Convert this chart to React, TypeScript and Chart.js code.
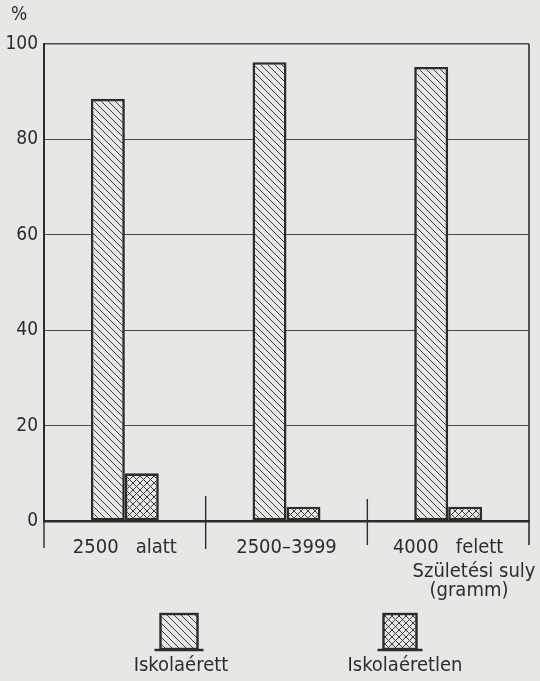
import React, { useEffect, useRef } from "react";
import { Chart, registerables } from "chart.js";

Chart.register(...registerables);

const categories = ["2500   alatt", "2500–3999", "4000   felett"];
const seriesNames = ["Iskolaérett", "Iskolaéretlen"];
const iskolaerett = [88.5, 96.2, 95.2];
const iskolaeretlen = [10, 3, 3];
const yTicks = [0, 20, 40, 60, 80, 100];
const axisUnit = "%";
const xTitle = ["Születési suly", "(gramm)"];

const PAPER = "#e7e7e4";
const INK = "#2c2c2c";
const FONT = "'DejaVu Sans Condensed', 'DejaVu Sans', sans-serif";

function makeHatch(cross: boolean): CanvasPattern | string {
  const s = 7;
  const c = document.createElement("canvas");
  c.width = s;
  c.height = s;
  const g = c.getContext("2d");
  if (!g) return PAPER;
  g.fillStyle = PAPER;
  g.fillRect(0, 0, s, s);
  g.strokeStyle = "#3a3a3a";
  g.lineWidth = 1;
  g.beginPath();
  g.moveTo(-1, -1);
  g.lineTo(s + 1, s + 1);
  g.moveTo(-1, s - 1);
  g.lineTo(1, s + 1);
  g.moveTo(s - 1, -1);
  g.lineTo(s + 1, 1);
  if (cross) {
    g.moveTo(s + 1, -1);
    g.lineTo(-1, s + 1);
    g.moveTo(1, -1);
    g.lineTo(-1, 1);
    g.moveTo(s + 1, s - 1);
    g.lineTo(s - 1, s + 1);
  }
  g.stroke();
  const p = g.createPattern(c, "repeat");
  return p || PAPER;
}

export default function App() {
  const ref = useRef<HTMLCanvasElement | null>(null);

  useEffect(() => {
    if (!ref.current) return;
    const hatch = makeHatch(false);
    const cross = makeHatch(true);

    const decor = {
      id: "decor",
      beforeDraw(chart: any) {
        const { ctx, width, height } = chart;
        ctx.save();
        ctx.fillStyle = PAPER;
        ctx.fillRect(0, 0, width, height);
        ctx.restore();
      },
      afterDraw(chart: any) {
        const { ctx, chartArea } = chart;
        const x = chart.scales.x;
        const n = categories.length;
        ctx.save();
        ctx.strokeStyle = INK;
        // right border
        ctx.lineWidth = 1.6;
        ctx.beginPath();
        ctx.moveTo(chartArea.right, chartArea.top);
        ctx.lineTo(chartArea.right, chartArea.bottom + 24);
        ctx.stroke();
        // category separators
        ctx.lineWidth = 1.4;
        const tops = [0, 25, 22];
        const bots = [27, 28, 24];
        for (let i = 0; i < n; i++) {
          const bx =
            i === 0
              ? chartArea.left
              : (x.getPixelForValue(i - 1) + x.getPixelForValue(i)) / 2;
          ctx.beginPath();
          ctx.moveTo(bx, chartArea.bottom - tops[i]);
          ctx.lineTo(bx, chartArea.bottom + bots[i]);
          ctx.stroke();
        }
        // unit
        ctx.fillStyle = INK;
        ctx.font = `19px ${FONT}`;
        ctx.textBaseline = "middle";
        ctx.textAlign = "left";
        ctx.fillText(axisUnit, 11, 15);
        // x title
        ctx.font = `20px ${FONT}`;
        ctx.textAlign = "center";
        ctx.fillText(xTitle[0], 474, 572);
        ctx.fillText(xTitle[1], 469, 591);
        // legend
        const items = chart.data.datasets;
        const centers = [179, 400];
        const widths = [37, 33];
        items.forEach((ds: any, i: number) => {
          const cx = centers[i];
          const w = widths[i];
          const top = 614;
          const bot = 649;
          ctx.fillStyle = ds.backgroundColor;
          ctx.fillRect(cx - w / 2, top, w, bot - top);
          ctx.lineWidth = 2.4;
          ctx.strokeStyle = INK;
          ctx.strokeRect(cx - w / 2, top, w, bot - top);
          ctx.lineWidth = 2.6;
          ctx.beginPath();
          ctx.moveTo(cx - w / 2 - 6, bot + 1);
          ctx.lineTo(cx + w / 2 + 6, bot + 1);
          ctx.stroke();
          ctx.fillStyle = INK;
          ctx.font = `20px ${FONT}`;
          ctx.textAlign = "center";
          ctx.fillText(ds.label, cx + (i === 0 ? 2 : 5), 666);
        });
        ctx.restore();
      },
    };

    const chart = new Chart(ref.current, {
      type: "bar",
      data: {
        labels: categories,
        datasets: [
          {
            label: seriesNames[0],
            data: iskolaerett,
            backgroundColor: hatch as any,
            borderColor: INK,
            borderWidth: 2.6,
            borderSkipped: false,
            categoryPercentage: 0.42,
            barPercentage: 1,
          },
          {
            label: seriesNames[1],
            data: iskolaeretlen,
            backgroundColor: cross as any,
            borderColor: INK,
            borderWidth: 2.6,
            borderSkipped: false,
            categoryPercentage: 0.42,
            barPercentage: 1,
          },
        ],
      },
      options: {
        animation: false,
        responsive: false,
        devicePixelRatio: 1,
        layout: { padding: { top: 44, right: 11, left: 0, bottom: 0 } },
        plugins: {
          legend: { display: false },
          tooltip: { enabled: false },
          title: { display: false },
        },
        scales: {
          x: {
            grid: { display: false },
            border: { display: true, color: INK, width: 2.6 },
            ticks: {
              color: INK,
              font: { size: 20, family: FONT },
              padding: 7,
              maxRotation: 0,
            },
            afterFit(scale: any) {
              scale.height = 160;
            },
          },
          y: {
            min: 0,
            max: 100,
            afterBuildTicks(scale: any) {
              scale.ticks = yTicks.map((v) => ({ value: v }));
            },
            grid: {
              color: "#4a4a4a",
              lineWidth: (c: any) => (c.tick && c.tick.value === 100 ? 1.6 : 1.1),
              drawTicks: false,
            },
            border: { display: true, color: INK, width: 2 },
            ticks: {
              color: INK,
              font: { size: 19, family: FONT },
              padding: 6,
            },
            afterFit(scale: any) {
              scale.width = 44;
            },
          },
        },
      },
      plugins: [decor],
    });

    return () => chart.destroy();
  }, []);

  return (
    <div style={{ position: "fixed", left: 0, top: 0, width: 540, height: 681, background: PAPER }}>
      <canvas ref={ref} width={540} height={681} style={{ display: "block" }} />
    </div>
  );
}
